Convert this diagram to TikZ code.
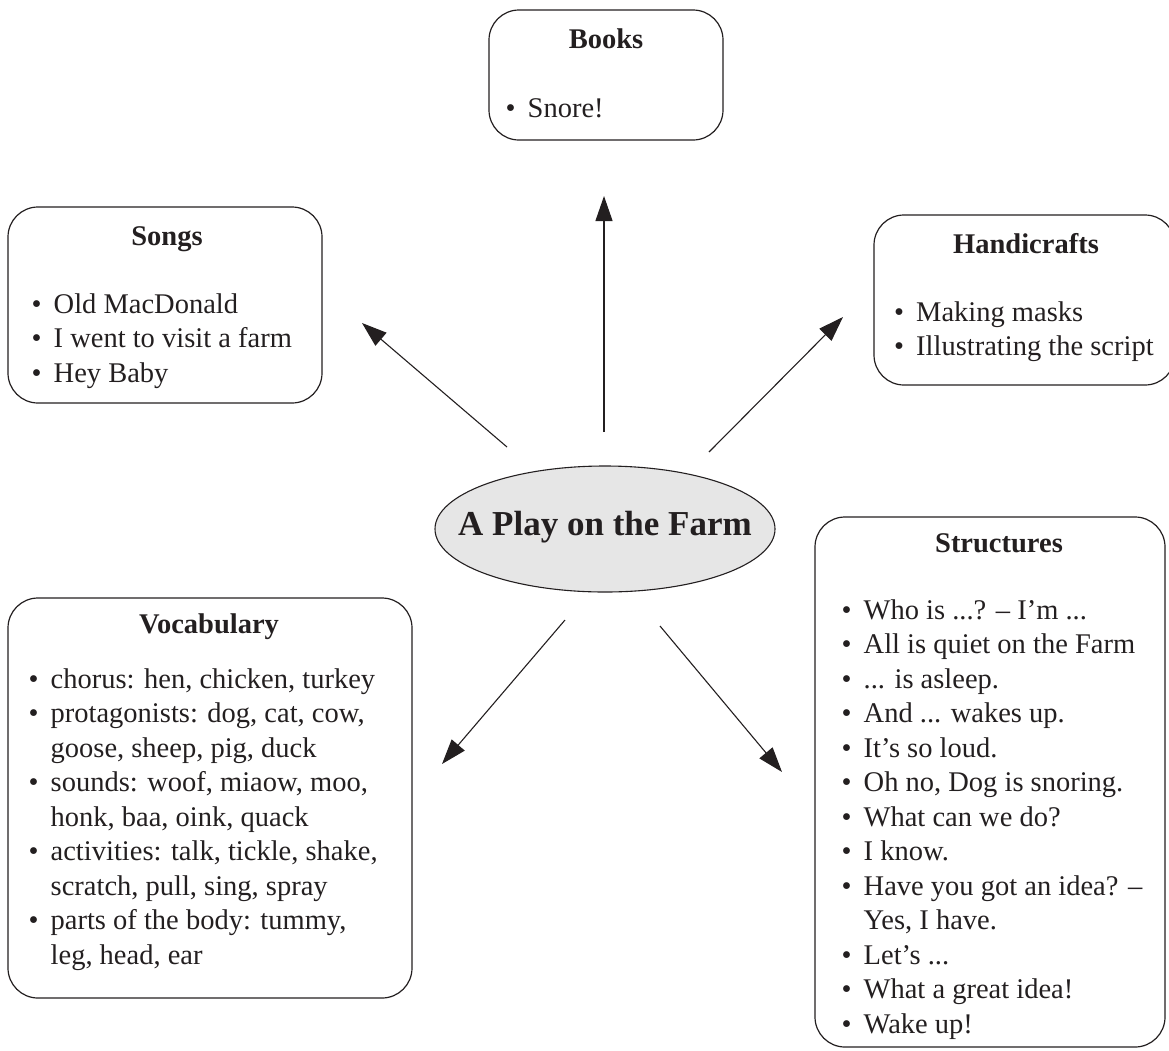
\documentclass[tikz,border=0pt]{standalone}
\usepackage{fontspec}
\setmainfont{Liberation Serif}
\usetikzlibrary{arrows.meta,shapes.geometric}
\definecolor{ink}{HTML}{231F20}
\definecolor{ellfill}{HTML}{E6E6E6}
\newcommand\bul{\makebox[22pt][l]{\textbullet}}
\newcommand\ind{\hspace*{22pt}}
\tikzset{
  box/.style={draw=ink, line width=1.2pt, rounded corners=30pt, inner sep=0pt, rectangle},
  boxtitle/.style={anchor=base, inner sep=0pt, text=ink, font=\fontsize{28.5}{34.5}\selectfont\bfseries},
  boxlist/.style={anchor=base west, inner sep=0pt, text=ink, font=\fontsize{28.5}{34.5}\selectfont},
  conn/.style={draw=ink, line width=1.1pt, -{Triangle[length=25pt,width=17pt]}},
}
\begin{document}
\begin{tikzpicture}[x=1pt,y=-1pt]
\useasboundingbox (0,0) rectangle (1169,1050);

% central ellipse
\node[ellipse, draw=ink, line width=1.1pt, fill=ellfill, minimum width=340pt, minimum height=126pt, inner sep=0pt] (farm) at (605,529) {};
\node[anchor=base, inner sep=0pt, text=ink, font=\fontsize{35}{40}\selectfont\bfseries] (farmtxt) at (605,535) {A Play on the Farm};

% Books
\node[box, minimum width=234pt, minimum height=130pt] (books) at (606,75) {};
\node[boxtitle] (bookst) at (606,48) {Books};
\node[boxlist] (booksl) at (505.5,117) {\begin{tabular}[t]{@{}l@{}}\bul Snore!\end{tabular}};

% Songs
\node[box, minimum width=314pt, minimum height=196pt] (songs) at (165,305) {};
\node[boxtitle] (songst) at (167,245) {Songs};
\node[boxlist] (songsl) at (31.5,313) {\begin{tabular}[t]{@{}l@{}}\bul Old MacDonald\\ \bul I went to visit a farm\\ \bul Hey Baby\end{tabular}};

% Handicrafts (right side runs past the picture edge)
\node[box, minimum width=301pt, minimum height=170pt] (hand) at (1024.5,300) {};
\node[boxtitle] (handt) at (1026,253) {Handicrafts};
\node[boxlist] (handl) at (894,321) {\begin{tabular}[t]{@{}l@{}}\bul Making masks\\ \bul Illustrating the script\end{tabular}};

% Vocabulary
\node[box, minimum width=404pt, minimum height=400pt] (vocab) at (210,798) {};
\node[boxtitle] (vocabt) at (209,633) {Vocabulary};
\node[boxlist] (vocabl) at (28.5,688) {\begin{tabular}[t]{@{}l@{}}
\bul chorus: hen, chicken, turkey\\
\bul protagonists: dog, cat, cow,\\
\ind goose, sheep, pig, duck\\
\bul sounds: woof, miaow, moo,\\
\ind honk, baa, oink, quack\\
\bul activities: talk, tickle, shake,\\
\ind scratch, pull, sing, spray\\
\bul parts of the body: tummy,\\
\ind leg, head, ear\end{tabular}};

% Structures
\node[box, minimum width=350pt, minimum height=530pt] (struct) at (990,782) {};
\node[boxtitle] (structt) at (999,552) {Structures};
\node[boxlist] (structl) at (841.5,619) {\begin{tabular}[t]{@{}l@{}}
\bul Who is ...? -- I’m ...\\
\bul All is quiet on the Farm\\
\bul ... is asleep.\\
\bul And ... wakes up.\\
\bul It’s so loud.\\
\bul Oh no, Dog is snoring.\\
\bul What can we do?\\
\bul I know.\\
\bul Have you got an idea? --\\
\ind Yes, I have.\\
\bul Let’s ...\\
\bul What a great idea!\\
\bul Wake up!\end{tabular}};

% connector ends
\coordinate (s1) at (604,432);  \coordinate (t1) at (604,196);
\coordinate (s2) at (507,447);  \coordinate (t2) at (362,323);
\coordinate (s3) at (709,452);  \coordinate (t3) at (843,317);
\coordinate (s4) at (565,620);  \coordinate (t4) at (442,764);
\coordinate (s5) at (660,626);  \coordinate (t5) at (782,772);

\draw[conn] (s1) -- (t1);
\draw[conn] (s2) -- (t2);
\draw[conn] (s3) -- (t3);
\draw[conn] (s4) -- (t4);
\draw[conn] (s5) -- (t5);
\end{tikzpicture}
\end{document}
